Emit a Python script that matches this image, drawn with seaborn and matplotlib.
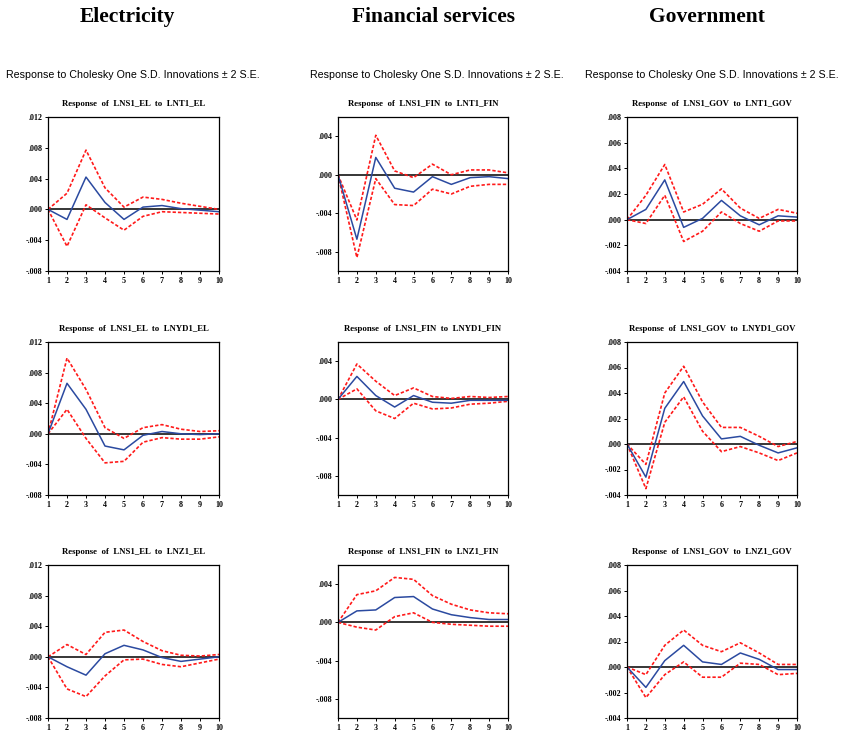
import numpy as np
import pandas as pd
import matplotlib
matplotlib.use("Agg")
import matplotlib.pyplot as plt
import seaborn as sns

periods = list(range(1, 11))

sectors = ["Electricity", "Financial services", "Government"]
codes = ["EL", "FIN", "GOV"]
shocks = ["LNT1", "LNYD1", "LNZ1"]

# Electricity
el_t1 = [0, -0.0013, 0.0042, 0.0009, -0.0013, 0.0003, 0.0005, 0.0001, -0.0001, -0.0003]
el_t1_up = [0, 0.0021, 0.0077, 0.0028, 0.0003, 0.0016, 0.0013, 0.0008, 0.0004, 0.0000]
el_t1_lo = [0, -0.0048, 0.0006, -0.0011, -0.0027, -0.0009, -0.0003, -0.0004, -0.0005, -0.0006]

el_yd1 = [0, 0.0066, 0.0032, -0.0016, -0.0021, -0.0002, 0.0003, 0.0000, -0.0001, 0.0000]
el_yd1_up = [0, 0.0099, 0.0058, 0.0008, -0.0006, 0.0008, 0.0012, 0.0006, 0.0003, 0.0004]
el_yd1_lo = [0, 0.0032, -0.0006, -0.0038, -0.0036, -0.0011, -0.0005, -0.0007, -0.0007, -0.0004]

el_z1 = [0, -0.0013, -0.0024, 0.0004, 0.0015, 0.0009, -0.0001, -0.0006, -0.0003, 0.0000]
el_z1_up = [0, 0.0016, 0.0003, 0.0032, 0.0035, 0.0020, 0.0008, 0.0002, 0.0001, 0.0003]
el_z1_lo = [0, -0.0042, -0.0052, -0.0025, -0.0004, -0.0003, -0.0010, -0.0013, -0.0008, -0.0003]

# Financial services
fin_t1 = [0, -0.0067, 0.0018, -0.0014, -0.0018, -0.0002, -0.0010, -0.0003, -0.0002, -0.0004]
fin_t1_up = [0, -0.0047, 0.0041, 0.0004, -0.0003, 0.0011, 0.0000, 0.0005, 0.0005, 0.0002]
fin_t1_lo = [0, -0.0086, -0.0004, -0.0031, -0.0032, -0.0015, -0.0020, -0.0012, -0.0010, -0.0010]

fin_yd1 = [0, 0.0024, 0.0004, -0.0008, 0.0004, -0.0003, -0.0004, -0.0001, -0.0001, -0.0001]
fin_yd1_up = [0, 0.0037, 0.0019, 0.0004, 0.0012, 0.0003, 0.0001, 0.0003, 0.0002, 0.0003]
fin_yd1_lo = [0, 0.0011, -0.0012, -0.0020, -0.0004, -0.0010, -0.0009, -0.0005, -0.0004, -0.0002]

fin_z1 = [0, 0.0012, 0.0013, 0.0026, 0.0027, 0.0014, 0.0008, 0.0005, 0.0003, 0.0003]
fin_z1_up = [0, 0.0029, 0.0033, 0.0047, 0.0045, 0.0028, 0.0019, 0.0013, 0.0010, 0.0009]
fin_z1_lo = [0, -0.0005, -0.0008, 0.0006, 0.0010, 0.0000, -0.0002, -0.0003, -0.0004, -0.0004]

# Government
gov_t1 = [0, 0.0008, 0.0031, -0.0006, 0.0001, 0.0015, 0.0003, -0.0004, 0.0003, 0.0002]
gov_t1_up = [0, 0.0019, 0.0043, 0.0006, 0.0012, 0.0024, 0.0009, 0.0001, 0.0008, 0.0005]
gov_t1_lo = [0, -0.0003, 0.0019, -0.0017, -0.0009, 0.0006, -0.0003, -0.0009, -0.0001, -0.0001]

gov_yd1 = [0, -0.0026, 0.0028, 0.0049, 0.0022, 0.0004, 0.0006, -0.0001, -0.0007, -0.0003]
gov_yd1_up = [0, -0.0016, 0.0040, 0.0061, 0.0033, 0.0013, 0.0013, 0.0006, -0.0002, 0.0002]
gov_yd1_lo = [0, -0.0035, 0.0017, 0.0037, 0.0010, -0.0006, -0.0002, -0.0007, -0.0013, -0.0007]

gov_z1 = [0, -0.0016, 0.0005, 0.0017, 0.0004, 0.0002, 0.0011, 0.0006, -0.0002, -0.0002]
gov_z1_up = [0, -0.0006, 0.0017, 0.0029, 0.0017, 0.0012, 0.0019, 0.0011, 0.0002, 0.0002]
gov_z1_lo = [0, -0.0024, -0.0006, 0.0004, -0.0008, -0.0008, 0.0003, 0.0002, -0.0006, -0.0005]

series = {
    "EL": [(el_t1, el_t1_up, el_t1_lo), (el_yd1, el_yd1_up, el_yd1_lo), (el_z1, el_z1_up, el_z1_lo)],
    "FIN": [(fin_t1, fin_t1_up, fin_t1_lo), (fin_yd1, fin_yd1_up, fin_yd1_lo), (fin_z1, fin_z1_up, fin_z1_lo)],
    "GOV": [(gov_t1, gov_t1_up, gov_t1_lo), (gov_yd1, gov_yd1_up, gov_yd1_lo), (gov_z1, gov_z1_up, gov_z1_lo)],
}

ylims = {"EL": (-0.008, 0.012), "FIN": (-0.010, 0.006), "GOV": (-0.004, 0.008)}
yticks = {
    "EL": [-0.008, -0.004, 0.0, 0.004, 0.008, 0.012],
    "FIN": [-0.008, -0.004, 0.0, 0.004],
    "GOV": [-0.004, -0.002, 0.0, 0.002, 0.004, 0.006, 0.008],
}

sns.set_style("white")
plt.rcParams["font.family"] = ["Liberation Serif", "DejaVu Serif"]
plt.rcParams["text.color"] = "black"
plt.rcParams["xtick.color"] = "black"
plt.rcParams["ytick.color"] = "black"

W, H = 843, 736
fig = plt.figure(figsize=(W / 100, H / 100), dpi=100)

# axes boxes in pixels: left, right per column; top, bottom per row
cols_px = [(48, 219), (338, 508), (627, 797)]
rows_px = [(117, 271), (342, 495), (565, 718)]
title_centers = [127, 434, 707]
sub_centers = [133, 437, 712]

for j, (sector, code) in enumerate(zip(sectors, codes)):
    fig.text(title_centers[j] / W, 1 - 22 / H, sector, ha="center", va="baseline",
             fontsize=15.5, fontweight="bold")
    fig.text(sub_centers[j] / W, 1 - 77.5 / H,
             "Response to Cholesky One S.D. Innovations \u00b1 2 S.E.",
             ha="center", va="baseline", fontsize=7.7,
             family=["Liberation Sans Narrow", "Liberation Sans", "DejaVu Sans"])
    for i, shock in enumerate(shocks):
        l, r = cols_px[j]
        t, b = rows_px[i]
        ax = fig.add_axes([l / W, 1 - b / H, (r - l) / W, (b - t) / H])
        resp, up, lo = series[code][i]
        df = pd.DataFrame({"period": periods, "resp": resp, "up": up, "lo": lo})
        ax.axhline(0, color="black", lw=1.1, zorder=1)
        sns.lineplot(data=df, x="period", y="up", ax=ax, color="#ff1a1a",
                     lw=1.2, linestyle=(0, (2, 1.2)))
        sns.lineplot(data=df, x="period", y="lo", ax=ax, color="#ff1a1a",
                     lw=1.2, linestyle=(0, (2, 1.2)))
        sns.lineplot(data=df, x="period", y="resp", ax=ax, color="#2b4aa0", lw=1.1)
        ax.set_xlim(1, 10)
        ax.set_ylim(*ylims[code])
        ax.set_xticks(periods)
        ax.set_yticks(yticks[code])
        ax.set_yticklabels([("-" if v < 0 else "") + ("%.3f" % abs(v))[1:] for v in yticks[code]])
        ax.set_xlabel("")
        ax.set_ylabel("")
        ax.tick_params(axis="both", direction="out", length=2.5, width=0.7,
                       labelsize=5.8, pad=1.5, colors="black")
        ax.tick_params(axis="x", bottom=True)
        ax.tick_params(axis="y", left=True)
        for lab in ax.get_xticklabels() + ax.get_yticklabels():
            lab.set_fontweight("bold")
        for s in ax.spines.values():
            s.set_color("black")
            s.set_linewidth(0.9)
        ax.set_title("Response  of  LNS1_%s  to  %s_%s" % (code, shock, code),
                     fontsize=6.3, fontweight="bold", pad=8, color="black")

fig.savefig("out.png", dpi=100)
